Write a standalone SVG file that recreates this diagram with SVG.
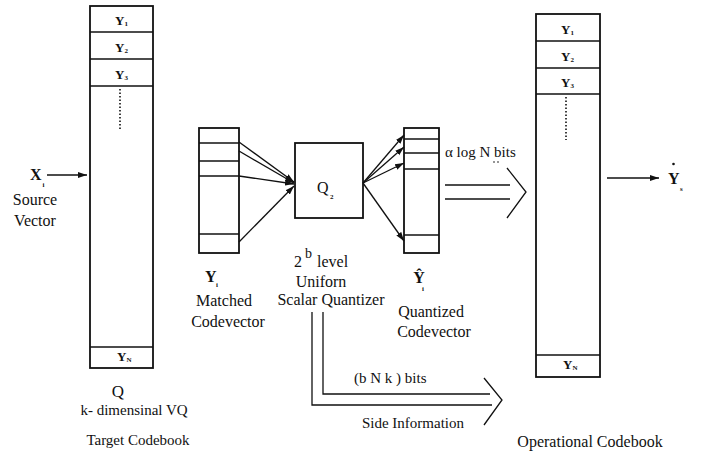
<svg xmlns="http://www.w3.org/2000/svg" width="710" height="454" viewBox="0 0 710 454">
<style>
  .box{fill:none;stroke:#111;stroke-width:1.8}
  .ln{fill:none;stroke:#111;stroke-width:1.3}
  .t{font-family:"Liberation Serif","Times New Roman",serif;font-size:16px;fill:#111}
  .b{font-weight:bold}
  .y{font-family:"Liberation Serif","Times New Roman",serif;font-size:13px;font-weight:bold;fill:#111}
  .sub{font-family:"Liberation Serif","Times New Roman",serif;font-size:7px;font-weight:bold;fill:#111}
  .dot{stroke:#111;stroke-width:1.6;stroke-dasharray:1.5 2}
</style>
<defs>
  <marker id="ah" markerWidth="10" markerHeight="8" refX="9" refY="4" orient="auto" markerUnits="userSpaceOnUse">
    <path d="M0,1 L9,4 L0,7 Z" fill="#111"/>
  </marker>
</defs>

<g id="target-codebook">
  <rect class="box" x="90" y="6" width="63" height="362"/>
  <line class="ln" x1="90" y1="32" x2="153" y2="32"/>
  <line class="ln" x1="90" y1="59" x2="153" y2="59"/>
  <line class="ln" x1="90" y1="86" x2="153" y2="86"/>
  <line class="ln" x1="90" y1="347" x2="153" y2="347"/>
  <line class="dot" x1="120" y1="89" x2="120" y2="131"/>
  <text class="y" x="115" y="25">Y<tspan class="sub" dy="1">1</tspan></text>
  <text class="y" x="115" y="52">Y<tspan class="sub" dy="1">2</tspan></text>
  <text class="y" x="115" y="79">Y<tspan class="sub" dy="1">3</tspan></text>
  <text class="y" x="117" y="361">Y<tspan class="sub" dy="1">N</tspan></text>
  <text class="t" x="118" y="397" text-anchor="middle" style="font-size:17px">Q</text>
  <text class="t" x="134" y="415" text-anchor="middle" style="font-size:15px">k- dimensinal VQ</text>
  <text class="t" x="138" y="445" text-anchor="middle" style="font-size:15px">Target Codebook</text>
</g>

<g id="source">
  <text class="t b" x="30" y="180">X</text>
  <text class="sub" x="42.5" y="187">i</text>
  <text class="t" x="35" y="205" text-anchor="middle">Source</text>
  <text class="t" x="35" y="226" text-anchor="middle">Vector</text>
</g>

<g id="matched-codevector">
  <rect class="box" x="199" y="128" width="40" height="125"/>
  <line class="ln" x1="199" y1="143" x2="239" y2="143"/>
  <line class="ln" x1="199" y1="161" x2="239" y2="161"/>
  <line class="ln" x1="199" y1="176" x2="239" y2="176"/>
  <line class="ln" x1="199" y1="234" x2="239" y2="234"/>
  <text class="t b" x="205" y="282">Y</text>
  <text class="sub" x="216" y="287">i</text>
  <text class="t" x="224" y="306" text-anchor="middle">Matched</text>
  <text class="t" x="228" y="327" text-anchor="middle">Codevector</text>
</g>

<g id="scalar-quantizer">
  <rect class="box" x="295" y="143" width="68" height="75"/>
  <text class="t" x="317" y="193">Q</text>
  <text class="sub" x="330" y="199">2</text>
  <text class="t" x="294" y="267">2</text>
  <text class="t" x="305" y="258" style="font-size:14px">b</text>
  <text class="t" x="317" y="267">level</text>
  <text class="t" x="321" y="287" text-anchor="middle">Uniforn</text>
  <text class="t" x="331" y="305" text-anchor="middle">Scalar Quantizer</text>
</g>

<g id="quantized-codevector">
  <rect class="box" x="404" y="128" width="35" height="125"/>
  <line class="ln" x1="404" y1="139" x2="439" y2="139"/>
  <line class="ln" x1="404" y1="153" x2="439" y2="153"/>
  <line class="ln" x1="404" y1="169" x2="439" y2="169"/>
  <line class="ln" x1="404" y1="235" x2="439" y2="235"/>
  <text class="t b" x="419" y="283" text-anchor="middle">Ŷ</text>
  <text class="sub" x="422" y="291">i</text>
  <text class="t" x="431" y="317" text-anchor="middle">Quantized</text>
  <text class="t" x="434" y="337" text-anchor="middle">Codevector</text>
</g>

<g id="operational-codebook">
  <rect class="box" x="536" y="14" width="64" height="363"/>
  <line class="ln" x1="536" y1="41" x2="600" y2="41"/>
  <line class="ln" x1="536" y1="68" x2="600" y2="68"/>
  <line class="ln" x1="536" y1="94" x2="600" y2="94"/>
  <line class="ln" x1="536" y1="355" x2="600" y2="355"/>
  <line class="dot" x1="566" y1="97" x2="566" y2="140"/>
  <text class="y" x="561" y="34">Y<tspan class="sub" dy="1">1</tspan></text>
  <text class="y" x="561" y="61">Y<tspan class="sub" dy="1">2</tspan></text>
  <text class="y" x="561" y="87">Y<tspan class="sub" dy="1">3</tspan></text>
  <text class="y" x="563" y="369">Y<tspan class="sub" dy="1">N</tspan></text>
  <text class="t" x="590" y="447" text-anchor="middle">Operational Codebook</text>
</g>

<g id="output">
  <text class="t b" x="668" y="184">Y</text>
  <circle cx="673.5" cy="164" r="1.3" fill="#111"/>
  <text class="sub" x="680" y="191">s</text>
</g>

<g id="connectors">
  <line class="ln" x1="47" y1="175" x2="87" y2="175" marker-end="url(#ah)"/>
  <line class="ln" x1="239" y1="142" x2="294" y2="182" marker-end="url(#ah)"/>
  <line class="ln" x1="239" y1="151" x2="294" y2="183" marker-end="url(#ah)"/>
  <line class="ln" x1="239" y1="176" x2="294" y2="184" marker-end="url(#ah)"/>
  <line class="ln" x1="239" y1="242" x2="294" y2="186" marker-end="url(#ah)"/>
  <line class="ln" x1="363" y1="183" x2="404" y2="135" marker-end="url(#ah)"/>
  <line class="ln" x1="363" y1="183" x2="404" y2="147" marker-end="url(#ah)"/>
  <line class="ln" x1="363" y1="183" x2="404" y2="163" marker-end="url(#ah)"/>
  <line class="ln" x1="363" y1="183" x2="404" y2="241" marker-end="url(#ah)"/>
  <line class="ln" x1="607" y1="178" x2="659" y2="178" marker-end="url(#ah)"/>
  <!-- alpha log N bits arrow -->
  <line class="ln" x1="445" y1="185" x2="510" y2="185"/>
  <line class="ln" x1="445" y1="199" x2="510" y2="199"/>
  <polyline class="ln" points="507,168 526,192 507,218"/>
  <text class="t" x="445" y="157" style="font-size:15px">α  log N bits</text>
  <circle cx="494" cy="162" r="0.8" fill="#111"/>
  <circle cx="498" cy="162" r="0.8" fill="#111"/>
  <!-- side information -->
  <polyline class="ln" points="312,312 312,405 492,405"/>
  <polyline class="ln" points="323,312 323,394 490,394"/>
  <polyline class="ln" points="484,378 502,400 484,425"/>
  <text class="t" x="354" y="383" style="font-size:15px">(b N k ) bits</text>
  <text class="t" x="413" y="428" text-anchor="middle" style="font-size:15px">Side Information</text>
</g>
</svg>
